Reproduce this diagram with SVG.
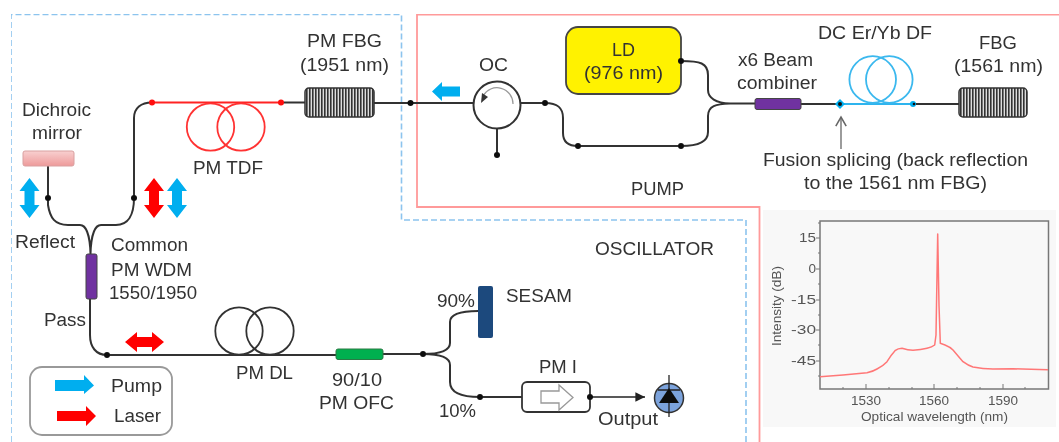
<svg xmlns="http://www.w3.org/2000/svg" width="1059" height="442" viewBox="0 0 1059 442">
<style>
text{font-family:"Liberation Sans",Arial,sans-serif;font-size:18px;fill:#333}
.t{font-size:13.500px;fill:#555}
.f{fill:none;stroke:#333;stroke-width:2}
.d{fill:#111}
.blue{fill:#00aeef}
.red{fill:#f00}
.fbg{fill:url(#hatch);stroke:#333;stroke-width:1.5}
.loop{fill:none;stroke-width:1.8}
</style>
<defs>
<pattern id="hatch" width="3" height="4" patternUnits="userSpaceOnUse"><rect width="3" height="4" fill="#ddd"/><rect width="1.6" height="4" fill="#333"/></pattern>
<linearGradient id="mg" x1="0" y1="0" x2="0" y2="1"><stop offset="0" stop-color="#f8d0d0"/><stop offset="1" stop-color="#ee9a9a"/></linearGradient>
<filter id="soft" x="0" y="0" width="100%" height="100%"><feGaussianBlur stdDeviation="0.55"/></filter>
<marker id="tipK" markerWidth="8" markerHeight="8" refX="6" refY="3" orient="auto"><path d="M0,0L6,3L0,6z" fill="#222"/></marker>
<marker id="tipG" markerWidth="12" markerHeight="12" refX="8" refY="5" orient="auto"><path d="M1,1L8,5L1,9" fill="none" stroke="#666" stroke-width="1.2"/></marker>
</defs>
<rect width="1059" height="442" fill="#fff"/>
<g filter="url(#soft)">
<g id="frames" fill="none">
<path d="M11,442V14.500H401.500V220H746V442" stroke="#8cc4ee" stroke-width="1.600" stroke-dasharray="6 3"/>
<path d="M1059,14.500H417V207H759.500V442" stroke="#ff9a9a" stroke-width="1.800"/>
</g>
<g id="connectors">
<path class="f" d="M281,102.500H305M374,103H473M521,103H545C558,103 563,108 563,118V133C563,141 568,146 578,146H681C698,146 708,142 708,132V116C708,106 716,104 730,103.500C716,103 708,98 708,90V75C708,63 700,61 681,61M730,103.500H755M801,104H840M913,104H959"/>
<path class="f" d="M497,128V155"/>
<path class="f" d="M48,166V205C50,218 55,225 68,225H80C86,225 90,235 90.500,254C91,235 95,225 101,225H116C128,225 134,215 134,198V118C134,108 141,102.500 152,102.500"/>
<path class="f" d="M90,299V335C90,347 96,355 107,355H336M383,354H423C438,354 450,352 450,343V322C450,314 460,311 478,311M423,354C438,354 450,356 450,365V382C450,392 460,397 480,397H522"/>
<path d="M590,397H645" fill="none" stroke="#222" stroke-width="1.600" marker-end="url(#tipK)"/>
<path d="M152,102.500H281" fill="none" stroke="#f22" stroke-width="2"/>
<path d="M840,104H913" fill="none" stroke="#2fb4ee" stroke-width="2"/>
<path d="M841,149V117" fill="none" stroke="#666" stroke-width="1.300" marker-end="url(#tipG)"/>
<g class="d"><circle cx="152" cy="102.500" r="3" fill="#f11"/><circle cx="281" cy="102.500" r="3" fill="#f11"/><circle cx="410.500" cy="103" r="3"/><circle cx="545" cy="103" r="3"/><circle cx="578" cy="146" r="3"/><circle cx="681" cy="146" r="3"/><circle cx="497" cy="155" r="3"/><circle cx="48" cy="198" r="3"/><circle cx="134" cy="198" r="3"/><circle cx="107" cy="355" r="3"/><circle cx="423" cy="354" r="3"/><circle cx="480" cy="397" r="3"/></g>
<path d="M840,99L845,104L840,109L835,104z" fill="#00aeef"/><circle cx="840" cy="104" r="2" fill="#111"/>
<circle cx="913" cy="104" r="3" fill="#00aeef"/><circle cx="914" cy="104" r="1.300" fill="#111"/>
</g>
<g id="mirror"><rect x="23" y="151" width="51" height="15" rx="2" fill="url(#mg)" stroke="#d9a0a0"/>
<text x="22" y="116" textLength="69" lengthAdjust="spacingAndGlyphs">Dichroic</text><text x="32" y="139" textLength="50" lengthAdjust="spacingAndGlyphs">mirror</text></g>
<g id="tdf"><g class="loop" stroke="#f33"><circle cx="210.500" cy="127" r="23.700"/><circle cx="241" cy="127" r="23.700"/></g>
<text x="193" y="174" textLength="70" lengthAdjust="spacingAndGlyphs">PM TDF</text></g>
<g id="pmfbg"><rect class="fbg" x="305" y="88" width="69" height="29" rx="4"/>
<text x="307" y="47" textLength="75" lengthAdjust="spacingAndGlyphs">PM FBG</text><text x="300" y="71" textLength="89" lengthAdjust="spacingAndGlyphs">(1951 nm)</text></g>
<g id="oc"><circle cx="497" cy="105" r="23.500" fill="#fff" stroke="#333" stroke-width="2"/>
<path d="M513,104A16,16 0 0 0 483,96" fill="none" stroke="#999" stroke-width="1.300"/><path d="M481,103L482,93L488,97z" fill="#333"/>
<text x="479" y="71" textLength="29" lengthAdjust="spacingAndGlyphs">OC</text></g>
<g id="ld"><rect x="566" y="27" width="115" height="67" rx="12" fill="#fff200" stroke="#444" stroke-width="1.800"/>
<circle cx="681" cy="61" r="3" fill="#111"/>
<text x="612" y="56" textLength="23" lengthAdjust="spacingAndGlyphs">LD</text><text x="584" y="79" textLength="79" lengthAdjust="spacingAndGlyphs">(976 nm)</text></g>
<g id="pump-label"><text x="631" y="195" textLength="53" lengthAdjust="spacingAndGlyphs">PUMP</text></g>
<g id="combiner"><rect x="755" y="98.500" width="46" height="11" rx="2" fill="#7030a0" stroke="#444"/>
<text x="738" y="66" textLength="75" lengthAdjust="spacingAndGlyphs">x6 Beam</text><text x="737" y="89" textLength="80" lengthAdjust="spacingAndGlyphs">combiner</text></g>
<g id="edf"><g class="loop" stroke="#3bb8ee"><circle cx="872.700" cy="79.500" r="23.300"/><circle cx="889.300" cy="79.500" r="23.300"/></g>
<text x="818" y="39" textLength="114" lengthAdjust="spacingAndGlyphs">DC Er/Yb DF</text></g>
<g id="fbg"><rect class="fbg" x="959" y="88" width="68" height="29" rx="4"/>
<text x="979" y="49" textLength="38" lengthAdjust="spacingAndGlyphs">FBG</text><text x="954" y="72" textLength="89" lengthAdjust="spacingAndGlyphs">(1561 nm)</text></g>
<g id="splice"><text x="763" y="166" textLength="265" lengthAdjust="spacingAndGlyphs">Fusion splicing (back reflection</text><text x="804" y="189" textLength="183" lengthAdjust="spacingAndGlyphs">to the 1561 nm FBG)</text></g>
<g id="arrows">
<path class="blue" d="M432,91.500L442,82V86.500H460V96.500H442V101z"/>
<path class="blue" d="M29.500,178L39.500,191H34.500V205H39.500L29.500,218L19.500,205H24.500V191H19.500z"/>
<path class="red" d="M154,178L164,191H159V205H164L154,218L144,205H149V191H144z"/>
<path class="blue" d="M177,178L187,191H182V205H187L177,218L167,205H172V191H167z"/>
<path class="red" d="M125,342L137,332V337H152V332L164,342L152,352V347H137V352z"/>
</g>
<g id="wdm"><rect x="86" y="254" width="11" height="45" rx="2" fill="#7030a0" stroke="#444"/>
<text x="15" y="248" textLength="60" lengthAdjust="spacingAndGlyphs">Reflect</text><text x="111" y="251" textLength="77" lengthAdjust="spacingAndGlyphs">Common</text><text x="111" y="276" textLength="81" lengthAdjust="spacingAndGlyphs">PM WDM</text><text x="109" y="299" textLength="88" lengthAdjust="spacingAndGlyphs">1550/1950</text><text x="44" y="326" textLength="42" lengthAdjust="spacingAndGlyphs">Pass</text></g>
<g id="dl"><g class="loop" stroke="#333"><circle cx="239" cy="331" r="23.700"/><circle cx="270" cy="331" r="23.700"/></g>
<text x="236" y="379" textLength="57" lengthAdjust="spacingAndGlyphs">PM DL</text></g>
<g id="ofc"><rect x="336" y="349" width="47" height="10.500" rx="2" fill="#00b050" stroke="#2a7a44"/>
<text x="332" y="386" textLength="50" lengthAdjust="spacingAndGlyphs">90/10</text><text x="319" y="409" textLength="75" lengthAdjust="spacingAndGlyphs">PM OFC</text></g>
<g id="sesam"><rect x="478" y="286" width="15" height="52" rx="2" fill="#1f497d"/>
<text x="506" y="302" textLength="66" lengthAdjust="spacingAndGlyphs">SESAM</text><text x="437" y="307" textLength="38" lengthAdjust="spacingAndGlyphs">90%</text><text x="439" y="417" textLength="37" lengthAdjust="spacingAndGlyphs">10%</text></g>
<g id="isolator"><rect x="522" y="382" width="68" height="30" rx="5" fill="#fff" stroke="#333" stroke-width="1.800"/>
<path d="M541,391H559V385L573,397.500L559,410V403H541z" fill="#fff" stroke="#999" stroke-width="1.300"/>
<circle cx="590" cy="397" r="3" fill="#111"/>
<text x="539" y="373" textLength="38" lengthAdjust="spacingAndGlyphs">PM I</text></g>
<g id="detector"><circle cx="669" cy="398" r="14.500" fill="#7ba3dc" stroke="#333" stroke-width="1.500"/><path d="M669,375V417M658,390H680" stroke="#222" stroke-width="1.300" fill="none"/><path d="M669,388L679,403H659z" fill="#111"/>
<text x="598" y="425" textLength="60" lengthAdjust="spacingAndGlyphs">Output</text></g>
<g id="oscillator-label"><text x="595" y="255" textLength="119" lengthAdjust="spacingAndGlyphs">OSCILLATOR</text></g>
<g id="legend"><rect x="30" y="367" width="142" height="68" rx="12" fill="#fff" stroke="#999" stroke-width="1.800"/>
<path class="blue" d="M55,380H84V375L94,385.500L84,394V391H55z"/>
<path class="red" d="M57,411H86V406L96,416L86,426V421H57z"/>
<text x="111" y="392" textLength="51" lengthAdjust="spacingAndGlyphs">Pump</text><text x="114" y="422" textLength="47" lengthAdjust="spacingAndGlyphs">Laser</text></g>
<g id="inset">
<rect x="763" y="210" width="293" height="217" fill="#f8f8f8"/>
<rect x="820" y="221" width="228.500" height="168" fill="#f8f8f8" stroke="#777" stroke-width="1.500"/>
<path d="M816,238H820M816,269H820M816,300H820M816,330H820M816,361H820M818,223H820M818,253H820M818,284H820M818,315H820M818,345H820M818,376H820M866,389V384M934,389V384M1003,389V384M843,389V387M889,389V387M912,389V387M957,389V387M980,389V387M1025,389V387" stroke="#777" fill="none"/>
<path d="M820,376.700L843,375L867,372.700Q873,371.500 877,369Q883,366 887,361.700Q891,355 895,350.700Q898,348.300 902,348.300Q908,350.300 913,350.300Q921,350 927,348.300Q932,347 934.700,345L936,335L937.700,234L939,305L940.300,343.300L945,345Q950,347 953,350Q958,356 963,361.700Q968,365.500 973,367Q983,369 993,369L1013,368.700L1048,369.700" fill="none" stroke="#f77" stroke-width="1.500" stroke-linejoin="round"/>
<g text-anchor="end"><text class="t" x="816" y="242" textLength="17" lengthAdjust="spacingAndGlyphs">15</text><text class="t" x="816" y="273">0</text><text class="t" x="816" y="304" textLength="25" lengthAdjust="spacingAndGlyphs">-15</text><text class="t" x="816" y="334" textLength="25" lengthAdjust="spacingAndGlyphs">-30</text><text class="t" x="816" y="365" textLength="25" lengthAdjust="spacingAndGlyphs">-45</text></g>
<g text-anchor="middle"><text class="t" x="866" y="405">1530</text><text class="t" x="934" y="405">1560</text><text class="t" x="1003" y="405">1590</text></g>
<text class="t" x="861" y="421" textLength="147" lengthAdjust="spacingAndGlyphs">Optical wavelength (nm)</text>
<text class="t" transform="translate(781,346) rotate(-90)" textLength="80" lengthAdjust="spacingAndGlyphs">Intensity (dB)</text>
</g>
</g>
</svg>
